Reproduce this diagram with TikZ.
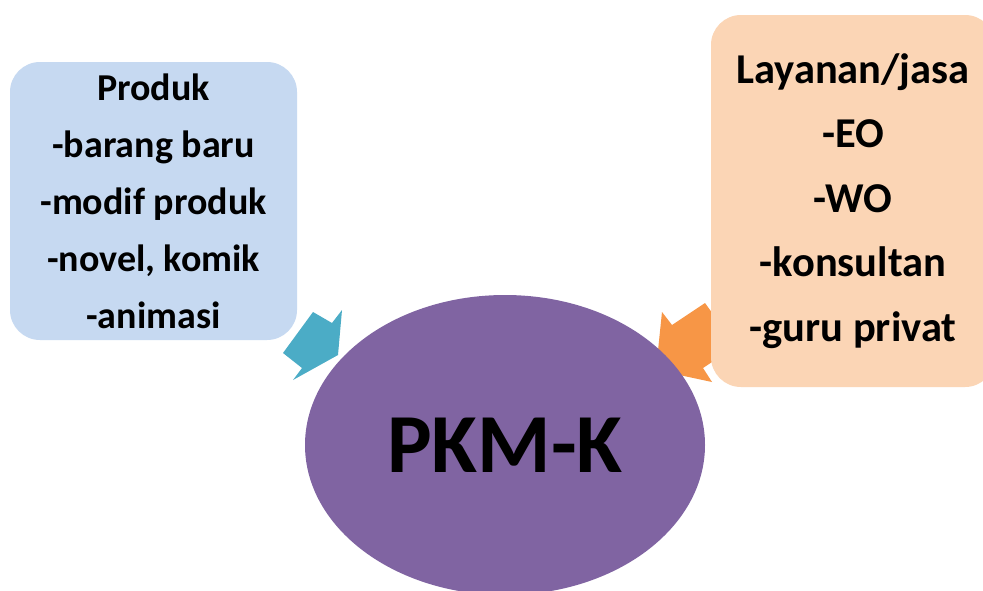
\documentclass[tikz,border=0pt]{standalone}
\usepackage{fontspec}
\setmainfont{Carlito}
\usetikzlibrary{shapes.geometric}
\definecolor{boxblue}{HTML}{C6D9F1}
\definecolor{boxpeach}{HTML}{FBD5B5}
\definecolor{ellpurple}{HTML}{8064A2}
\definecolor{arrblue}{HTML}{4BACC6}
\definecolor{arrorange}{HTML}{F79646}
\begin{document}
\begin{tikzpicture}[x=1pt,y=-1pt,
  infobox/.style={rectangle, rounded corners=30pt, draw=none, inner sep=0pt, align=center,
    font=\fontsize{38}{57}\selectfont\bfseries},
  ]
\useasboundingbox (0,0) rectangle (983,590);
\clip (0,0) rectangle (983,590);
\fill[white] (0,0) rectangle (983,590);
% arrows
\fill[arrblue] (313,312) -- (332,323) -- (342,310) -- (338,355) -- (293,380) -- (302,368) -- (283,353) -- cycle;
\fill[arrorange] (705,303) -- (672,325) -- (662,312) -- (656,370) -- (712,382) -- (703,368) -- (736,346) -- cycle;
% boxes
\node[infobox, fill=boxblue, minimum width=287pt, minimum height=278pt] (produk) at (153.5,201)
  {Produk\\-barang baru\\-modif produk\\-novel, komik\\-animasi};
\node[infobox, fill=boxpeach, minimum width=284pt, minimum height=372pt,
  font=\fontsize{42.5}{64.5}\selectfont\bfseries] (layanan) at (853,201)
  {Layanan/jasa\\-EO\\-WO\\-konsultan\\-guru privat};
% ellipse
\node[ellipse, fill=ellpurple, minimum width=400pt, minimum height=300pt, inner sep=0pt,
  font=\fontsize{84}{90}\selectfont\bfseries] (pkm) at (505,445) {PKM-K};
\end{tikzpicture}
\end{document}
